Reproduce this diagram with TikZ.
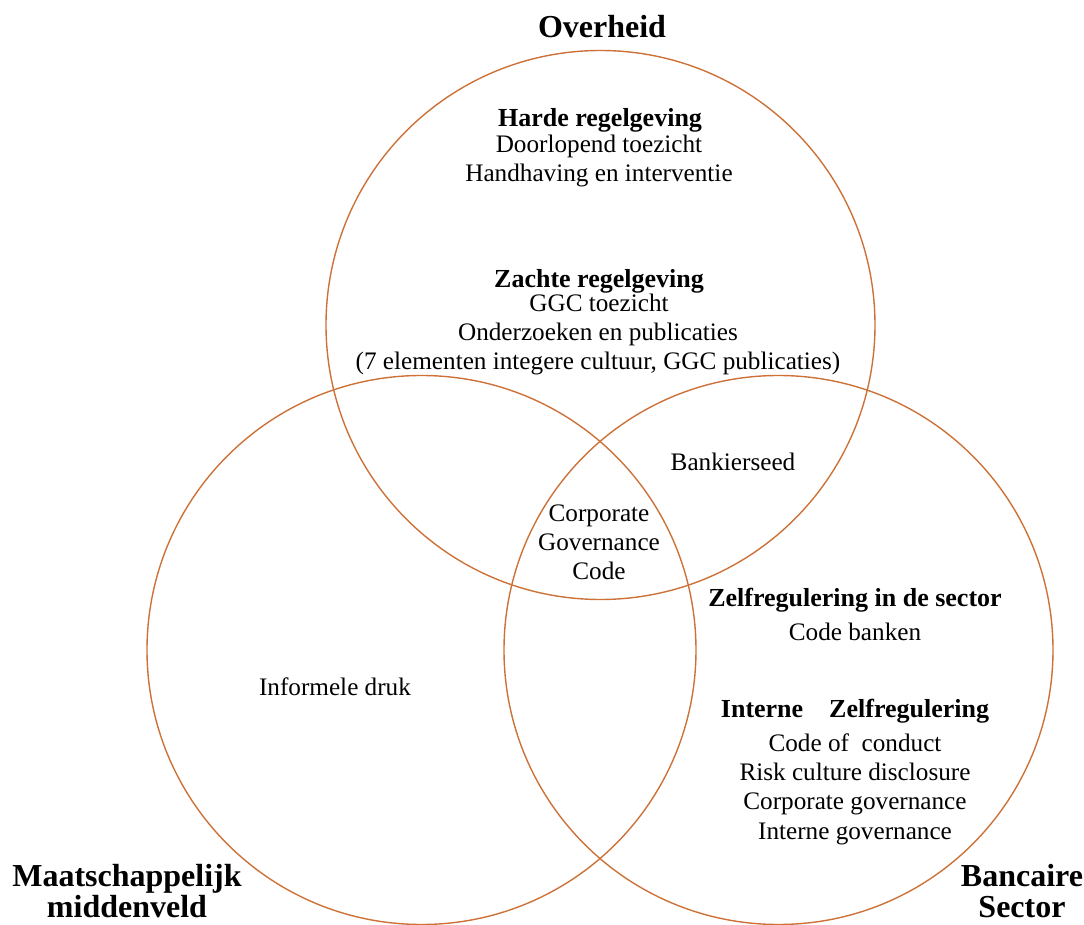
\documentclass[tikz,border=0pt]{standalone}
\usepackage{fontspec}
\setmainfont{Liberation Serif}
\definecolor{venn}{HTML}{CC7238}
\begin{document}
\begin{tikzpicture}[x=0.5pt,y=-0.5pt,
  ring/.style={draw=venn,line width=0.7pt},
  txt/.style={anchor=base,inner sep=0pt,font=\fontsize{12.6}{14}\selectfont},
  hdr/.style={anchor=base,inner sep=0pt,font=\fontsize{13}{15}\selectfont\bfseries},
  big/.style={anchor=base,inner sep=0pt,font=\fontsize{16}{18}\selectfont\bfseries}]
\useasboundingbox (0,0) rectangle (1084,925);
% the three sets
\draw[ring] (600.5,325) circle[radius=274.5];
\draw[ring] (421.5,650) circle[radius=274.5];
\draw[ring] (778.5,650) circle[radius=274.5];
% set names
\node[big] (overheid) at (602,38) {Overheid};
\node[big] (maat1) at (127,886) {Maatschappelijk};
\node[big] (maat2) at (127,918) {middenveld};
\node[big] (banc1) at (1022,886) {Bancaire};
\node[big] (banc2) at (1022,918) {Sector};
% Overheid
\node[hdr] (harde) at (600,127) {Harde regelgeving};
\node[txt] (h1) at (599,153) {Doorlopend toezicht};
\node[txt] (h2) at (599,182) {Handhaving en interventie};
\node[hdr] (zachte) at (599,288) {Zachte regelgeving};
\node[txt] (z1) at (599,312) {GGC toezicht};
\node[txt] (z2) at (598,341) {Onderzoeken en publicaties};
\node[txt] (z3) at (598,370) {(7 elementen integere cultuur, GGC publicaties)};
% overlaps
\node[txt] (eed) at (733,471) {Bankierseed};
\node[txt] (cgc1) at (599,522) {Corporate};
\node[txt] (cgc2) at (599,551) {Governance};
\node[txt] (cgc3) at (599,580) {Code};
% Maatschappelijk middenveld
\node[txt] (druk) at (335,696) {Informele druk};
% Bancaire sector
\node[hdr] (zelf) at (855,607) {Zelfregulering in de sector};
\node[txt] (s1) at (855,641) {Code banken};
\node[hdr] (intern) at (855,718) {Interne\quad Zelfregulering};
\node[txt] (i1) at (855,752) {Code of\ \ conduct};
\node[txt] (i2) at (855,781) {Risk culture disclosure};
\node[txt] (i3) at (855,810) {Corporate governance};
\node[txt] (i4) at (855,840) {Interne governance};
\end{tikzpicture}
\end{document}
